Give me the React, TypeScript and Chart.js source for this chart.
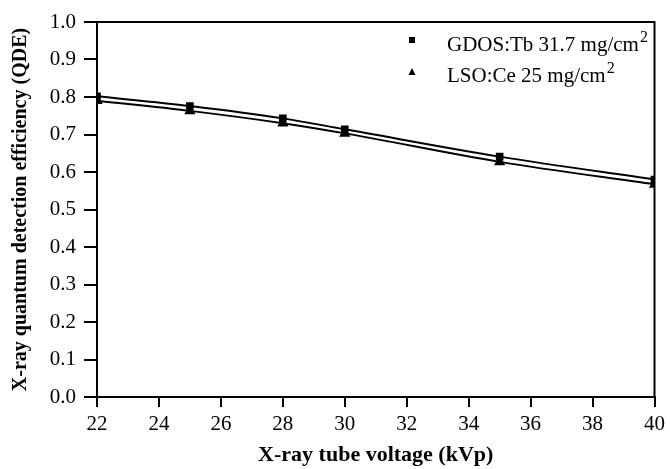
import React, { useEffect, useRef } from "react";
import { Chart, registerables } from "chart.js";

Chart.register(...registerables);

const voltages = [22, 25, 28, 30, 35, 40];
const gdosValues = [0.802, 0.776, 0.743, 0.714, 0.641, 0.58];
const lsoValues = [0.79, 0.763, 0.73, 0.703, 0.627, 0.567];
const seriesLabels = ["GDOS:Tb 31.7 mg/cm²", "LSO:Ce 25 mg/cm²"];
const xTitle = "X-ray tube voltage (kVp)";
const yTitle = "X-ray quantum detection efficiency (QDE)";

const FONT = "'Liberation Serif', 'Times New Roman', serif";

const framePlugin = {
  id: "frame",
  afterDatasetsDraw(chart: any) {
    const { ctx, chartArea } = chart;
    ctx.save();
    ctx.strokeStyle = "#000";
    ctx.lineWidth = 2;
    ctx.strokeRect(chartArea.left, chartArea.top, chartArea.right - chartArea.left, chartArea.bottom - chartArea.top);
    ctx.restore();
  },
};

const legendPlugin = {
  id: "customLegend",
  afterDraw(chart: any) {
    const { ctx } = chart;
    ctx.save();
    ctx.fillStyle = "#000";
    ctx.textBaseline = "alphabetic";
    const rows = [
      { my: 40, base: 51, style: "rect" },
      { my: 72, base: 82, style: "triangle" },
    ];
    rows.forEach((r, i) => {
      const mx = 412;
      if (r.style === "rect") {
        ctx.fillRect(mx - 3, r.my - 3, 6, 6);
      } else {
        ctx.beginPath();
        ctx.moveTo(mx, r.my - 4);
        ctx.lineTo(mx + 3.5, r.my + 3);
        ctx.lineTo(mx - 3.5, r.my + 3);
        ctx.closePath();
        ctx.fill();
      }
      const label: string = chart.data.datasets[i].label;
      const hasSup = label.endsWith("²");
      const main = hasSup ? label.slice(0, -1) : label;
      ctx.font = `21px ${FONT}`;
      ctx.fillText(main, 447, r.base);
      if (hasSup) {
        const w = ctx.measureText(main).width;
        ctx.font = `16px ${FONT}`;
        ctx.fillText("2", 447 + w + 1, r.base - 9);
      }
    });
    ctx.restore();
  },
};

export default function App() {
  const ref = useRef<HTMLCanvasElement>(null);
  useEffect(() => {
    const chart = new Chart(ref.current!, {
      type: "line",
      data: {
        datasets: [
          {
            label: seriesLabels[0],
            data: voltages.map((v, i) => ({ x: v, y: gdosValues[i] })),
            borderColor: "#000",
            backgroundColor: "#000",
            borderWidth: 2,
            pointStyle: "rect",
            pointRadius: 4,
            cubicInterpolationMode: "monotone",
          },
          {
            label: seriesLabels[1],
            data: voltages.map((v, i) => ({ x: v, y: lsoValues[i] })),
            borderColor: "#000",
            backgroundColor: "#000",
            borderWidth: 2,
            pointStyle: "triangle",
            pointRadius: 4.5,
            cubicInterpolationMode: "monotone",
          },
        ],
      },
      options: {
        animation: false,
        responsive: false,
        maintainAspectRatio: false,
        layout: { padding: { left: 5, right: 13, top: 22, bottom: 0 } },
        plugins: { legend: { display: false }, tooltip: { enabled: false } },
        scales: {
          x: {
            type: "linear",
            min: 22,
            max: 40,
            afterFit: (s: any) => {
              s.height = 72;
            },
            ticks: {
              stepSize: 2,
              color: "#000",
              font: { family: FONT, size: 21 },
              padding: 5,
              maxRotation: 0,
            },
            grid: { drawOnChartArea: false, drawTicks: true, tickLength: 10, color: "#000", lineWidth: 2 },
            border: { display: true, color: "#000", width: 2 },
            title: {
              display: true,
              text: xTitle,
              color: "#000",
              font: { family: FONT, size: 22, weight: "bold" },
              padding: { top: 4, bottom: 0 },
            },
          },
          y: {
            min: 0,
            max: 1,
            afterFit: (s: any) => {
              s.width = 92;
            },
            ticks: {
              stepSize: 0.1,
              color: "#000",
              font: { family: FONT, size: 21 },
              padding: 8,
              callback: (v: any) => Number(v).toFixed(1),
            },
            grid: { drawOnChartArea: false, drawTicks: true, tickLength: 13, color: "#000", lineWidth: 2 },
            border: { display: true, color: "#000", width: 2 },
            title: {
              display: true,
              text: yTitle,
              color: "#000",
              font: { family: FONT, size: 20, weight: "bold" },
              padding: { top: 4, bottom: 4 },
            },
          },
        },
      },
      plugins: [framePlugin, legendPlugin],
    } as any);
    return () => chart.destroy();
  }, []);
  return (
    <div style={{ position: "fixed", left: 0, top: 0, width: 670, height: 469, background: "#fff" }}>
      <canvas ref={ref} width={670} height={469} style={{ width: 670, height: 469 }} />
    </div>
  );
}
